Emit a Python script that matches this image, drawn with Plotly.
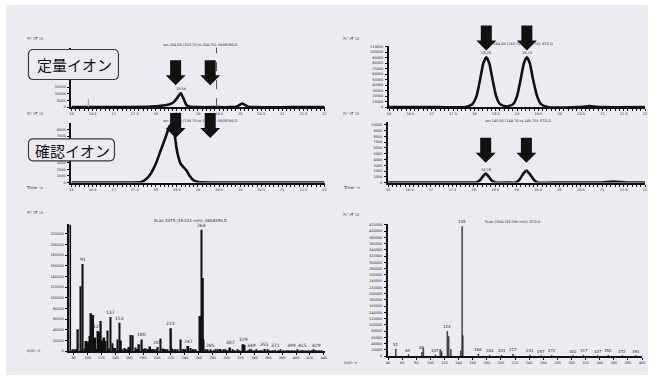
import plotly.graph_objects as go

W, H = 655, 381
BG = "#EDEBF2"
INK = "#111111"
TXT = "#2a2a2a"

# ---------------- data ----------------
# chromatogram, quantitation ion (left sample)
q1_time = [16.00, 16.71, 17.41, 17.88, 18.12, 18.31, 18.40, 18.49, 18.59, 18.66, 18.73,
           18.82, 19.06, 19.41, 19.76, 19.91, 20.05, 20.19, 20.35, 21.18, 22.00]
q1_abund = [0, 0, 140, 480, 1030, 2050, 3080, 6170, 10300, 6170, 1370,
            340, 0, 0, 0, 340, 2740, 340, 0, 0, 0]
q1_marker_time = [16.40, 16.40]
q1_marker_abund = [0, 6200]
q1_dash_time = 19.44
q1_ticks = [0, 5000, 10000, 15000]

# chromatogram, confirmation ion (left sample)
c1_time = [16.00, 17.41, 17.65, 17.76, 17.88, 18.00, 18.12, 18.24, 18.31, 18.35, 18.40,
           18.45, 18.49, 18.54, 18.59, 18.66, 18.73, 18.80, 18.89, 19.01, 19.29, 22.00]
c1_abund = [0, 0, 75, 450, 1340, 2830, 4920, 7000, 8340, 8720, 8570,
            7150, 5220, 3730, 2830, 2310, 1790, 1040, 370, 75, 0, 0]
c1_ticks = [0, 1000, 2000, 3000, 7000, 8000]

# chromatogram, quantitation ion (right standard)
q2_time = [16.00, 17.16, 17.77, 17.95, 18.05, 18.14, 18.21, 18.28, 18.35, 18.42, 18.51,
           18.60, 18.72, 18.79, 18.91, 19.00, 19.09, 19.16, 19.23, 19.30, 19.37, 19.47,
           19.56, 19.74, 20.42, 20.70, 20.98, 22.00]
q2_abund = [0, 0, 0, 5450, 20000, 52700, 80000, 90900, 80000, 52700, 20000,
            5450, 1800, 1800, 5450, 20000, 52700, 80000, 90900, 80000, 52700, 20000,
            5450, 0, 0, 1800, 0, 0]

# chromatogram, confirmation ion (right standard)
c2_time = [16.00, 17.86, 18.05, 18.14, 18.21, 18.28, 18.35, 18.42, 18.51, 18.79, 18.98,
           19.07, 19.16, 19.23, 19.30, 19.40, 19.49, 19.95, 20.98, 21.26, 21.56, 22.00]
c2_abund = [0, 0, 0, 345, 1030, 1550, 1030, 345, 0, 0, 0,
            520, 1550, 2070, 1550, 520, 0, 0, 0, 170, 0, 0]

tl_arrow_times = [18.47, 19.29]
tr_arrow_times = [18.28, 19.23]

# mass spectrum, left sample
ms1_mz = [75, 86, 90, 93, 98, 101, 103, 105, 108, 111,
          115, 117, 119, 121, 124, 126, 129, 133, 136, 140,
          143, 146, 148, 153, 160, 162, 165, 169, 174, 178,
          182, 190, 194, 201, 205, 209, 220, 222, 234, 239,
          245, 248, 262, 264, 266, 267, 277, 291, 296, 305,
          324, 326, 336, 355, 370, 394, 410, 429]
ms1_int = [237000, 41000, 122000, 163500, 19000, 18000, 28500, 71000, 67700, 25500,
           37800, 36000, 56500, 20000, 25500, 19000, 39000, 64000, 15000, 6000,
           22000, 53500, 20000, 6000, 8000, 30400, 30000, 7000, 13000, 22000,
           5000, 9000, 4000, 8000, 24000, 5000, 43000, 5000, 22000, 4000,
           10000, 6000, 66000, 227500, 137000, 22000, 3000, 4000, 2000, 7000,
           13000, 12000, 2000, 4000, 1500, 1500, 1500, 1500]
ms1_noise_mz = [79, 82, 84, 96, 113, 123, 131, 138, 150, 155,
                157, 170, 172, 180, 184, 186, 188, 192, 196, 199,
                211, 213, 215, 225, 227, 230, 237, 241, 251, 253,
                256, 270, 273, 281, 284, 287, 293, 299, 302, 309,
                312, 316, 319, 330, 333, 340, 343, 347, 351, 359,
                362, 366, 375, 378, 382, 386, 390, 398, 402, 406,
                414, 418, 422, 425, 433, 437]
ms1_noise_int = [3000, 2500, 4000, 5000, 4000, 6000, 5000, 5000, 3000, 2500,
                 3500, 3000, 2500, 4000, 5000, 3500, 3000, 2500, 2000, 3000,
                 3500, 2500, 2000, 3000, 2500, 2000, 3000, 2500, 2000, 3000,
                 2000, 2500, 2000, 1500, 2500, 2000, 1500, 2000, 1500, 2000,
                 1500, 2000, 1500, 1500, 2000, 1500, 2000, 1500, 1500, 2000,
                 1500, 1500, 1500, 2000, 1500, 1500, 1500, 1500, 2000, 1500,
                 1500, 1500, 1500, 2000, 1500, 1500]
ms1_label_text = ["91", "123", "137", "153", "180", "209", "223", "247", "264",
                  "285", "307", "329", "349", "355", "371", "399", "415", "429"]
ms1_label_mz = [93, 115, 133, 146, 178, 201, 220, 245, 264,
                277, 305, 324, 336, 355, 370, 394, 410, 429]

# mass spectrum, right standard
ms2_mz = [51, 69, 88, 90, 107, 114, 116, 124, 126, 129,
          143, 145, 146, 168, 184, 201, 217, 241, 257, 272,
          302, 317, 337, 352, 372, 391]
ms2_int = [23000, 5000, 13000, 25000, 4000, 22000, 15000, 80000, 63000, 22000,
           17000, 415000, 66000, 7000, 3000, 3000, 6000, 3000, 2000, 3000,
           2000, 3000, 2000, 3000, 2000, 2000]
ms2_label_mz = [51, 69, 88, 107, 124, 145, 168, 184, 201, 217,
                241, 257, 272, 302, 317, 337, 352, 372, 391]

label_quant = "定量イオン"
label_conf = "確認イオン"

# ---------------- helpers (layout only) ----------------
def dx(p):
    return p / W

def dy(p):
    return 1 - p / H

TICKFONT = dict(size=3.5, color=TXT, family="DejaVu Sans")

def xax(x0, x1, anchor, rng, dtick, tick0=None, minor=None):
    d = dict(domain=[dx(x0), dx(x1)], anchor=anchor, range=rng, dtick=dtick,
             showline=True, linecolor=INK, linewidth=2, ticks="outside", ticklen=2,
             tickwidth=1, tickcolor=INK, showgrid=False, zeroline=False,
             tickfont=TICKFONT, fixedrange=True, ticklabelstandoff=0)
    if tick0 is not None:
        d["tick0"] = tick0
    if minor is not None:
        d["minor"] = dict(dtick=minor, ticks="outside", ticklen=2, tickcolor=INK, showgrid=False)
    return d

def yax(ybot, ytop, anchor, rng, dtick=None, tickvals=None):
    d = dict(domain=[dy(ybot), dy(ytop)], anchor=anchor, range=rng,
             showline=True, linecolor=INK, linewidth=2, ticks="outside", ticklen=2,
             tickwidth=1, tickcolor=INK, showgrid=False, zeroline=False, tickformat="d",
             tickfont=TICKFONT, fixedrange=True, ticklabelstandoff=1)
    if tickvals is not None:
        d["tickvals"] = tickvals
    else:
        d["dtick"] = dtick
    return d

fig = go.Figure()

line_style = dict(color=INK, width=2.6, shape="spline", smoothing=0.5)
fig.add_trace(go.Scatter(x=q1_time, y=q1_abund, mode="lines", line=line_style, xaxis="x", yaxis="y"))
fig.add_trace(go.Scatter(x=q1_marker_time, y=q1_marker_abund, mode="lines",
                         line=dict(color="#9a9a9a", width=1), xaxis="x", yaxis="y"))
fig.add_trace(go.Scatter(x=c1_time, y=c1_abund, mode="lines", line=line_style, xaxis="x2", yaxis="y2"))
fig.add_trace(go.Scatter(x=q2_time, y=q2_abund, mode="lines", line=line_style, xaxis="x3", yaxis="y3"))
fig.add_trace(go.Scatter(x=c2_time, y=c2_abund, mode="lines", line=line_style, xaxis="x4", yaxis="y4"))

fig.add_trace(go.Bar(x=ms1_noise_mz, y=ms1_noise_int, width=2.0, marker=dict(color=INK, line=dict(width=0)),
                     xaxis="x5", yaxis="y5"))
fig.add_trace(go.Bar(x=ms1_mz, y=ms1_int, width=2.6, marker=dict(color=INK, line=dict(width=0)),
                     xaxis="x5", yaxis="y5"))
fig.add_trace(go.Bar(x=ms2_mz, y=ms2_int, width=1.3, marker=dict(color="#2b2b2b", line=dict(width=0.4, color="#2b2b2b")),
                     xaxis="x6", yaxis="y6"))

annotations = []
shapes = []

# background panel
shapes.append(dict(type="rect", xref="paper", yref="paper", x0=dx(4), x1=dx(651), y0=dy(377), y1=dy(4),
                   fillcolor=BG, line=dict(width=0), layer="below"))

# dashed marker line in quant chromatogram
shapes.append(dict(type="line", xref="x", yref="y domain", x0=q1_dash_time, x1=q1_dash_time, y0=0, y1=1,
                   line=dict(color="#555555", width=1, dash="dash"), layer="above"))

ARROW = "M 0,0 L -10,10 L -5.5,10 L -5.5,25 L 5.5,25 L 5.5,10 L 10,10 Z"

def arrow(xref, t, tip_py):
    return dict(type="path", xref=xref, yref="paper", xsizemode="pixel", ysizemode="pixel",
                xanchor=t, yanchor=dy(tip_py), path=ARROW, fillcolor=INK,
                line=dict(width=0), layer="above")

for t in tl_arrow_times:
    shapes.append(arrow("x", t, 85))
    shapes.append(arrow("x2", t, 138))
for t in tr_arrow_times:
    shapes.append(arrow("x3", t, 50))
    shapes.append(arrow("x4", t, 163))

def rounded_box(cx, cy, w, h, r):
    a, b = w / 2, h / 2
    p = (f"M {-a + r},{-b} L {a - r},{-b} Q {a},{-b} {a},{-b + r} L {a},{b - r} Q {a},{b} {a - r},{b} "
         f"L {-a + r},{b} Q {-a},{b} {-a},{b - r} L {-a},{-b + r} Q {-a},{-b} {-a + r},{-b} Z")
    return dict(type="path", xref="paper", yref="paper", xsizemode="pixel", ysizemode="pixel",
                xanchor=dx(cx), yanchor=dy(cy), path=p, fillcolor=BG,
                line=dict(color="#3a3a3a", width=1.2), layer="above")

shapes.append(rounded_box(72, 64, 90, 30, 5))
shapes.append(rounded_box(70, 150, 86, 22, 5))

JP = "Noto Sans CJK JP"
annotations.append(dict(text=label_quant, x=dx(73), y=dy(64.5), xref="paper", yref="paper", showarrow=False,
                        font=dict(family=JP, size=15, color="#111111"), xanchor="center", yanchor="middle"))
annotations.append(dict(text=label_conf, x=dx(71), y=dy(150.5), xref="paper", yref="paper", showarrow=False,
                        font=dict(family=JP, size=15, color="#111111"), xanchor="center", yanchor="middle"))

def tiny(text, cx, cy, size=4, anchor="center"):
    annotations.append(dict(text=text, x=dx(cx), y=dy(cy), xref="paper", yref="paper", showarrow=False,
                            font=dict(family="DejaVu Sans", size=size, color=TXT),
                            xanchor=anchor, yanchor="middle"))

ab = "ｱﾊﾞﾝﾀﾞﾝｽ"
for (cx, cy) in [(33, 38), (33, 113), (33, 213), (352, 38), (352, 113), (352, 215)]:
    tiny(ab, cx, cy)
tiny("Time-->", 33, 188)
tiny("Time-->", 352, 188)
tiny("m/z-->", 32, 352)
tiny("m/z-->", 352, 364)
tiny("Ion 264.00 (263.70 to 264.70): 0608290.D", 200, 44, 3.5)
tiny("Ion 137.00 (136.70 to 137.70): 0608290.D", 200, 121, 3.5)
tiny("Ion 264.00 (263.70 to 264.70): STD.D", 522, 43, 3.5)
tiny("Ion 145.00 (144.70 to 145.70): STD.D", 520, 121, 3.5)
tiny("Scan 2079 (19.021 min): 0608290.D", 190, 221, 4)
tiny("Scan 2064 (18.290 min): STD.D", 515, 223, 3.5)

# peak retention-time labels
for (xr, yr, t, v, txt) in [("x", "y", 18.59, 10300, "18.59"),
                            ("x3", "y3", 18.28, 90900, "18.28"),
                            ("x3", "y3", 19.23, 90900, "19.23"),
                            ("x4", "y4", 18.28, 1550, "18.28")]:
    annotations.append(dict(text=txt, x=t, y=v, xref=xr, yref=yr, showarrow=False, yshift=4,
                            font=dict(family="DejaVu Sans", size=3.5, color=TXT)))

# mass spectrum peak labels
lookup1 = dict(zip(ms1_mz, ms1_int))
for txt, m in zip(ms1_label_text, ms1_label_mz):
    annotations.append(dict(text=txt, x=m, y=lookup1[m], xref="x5", yref="y5", showarrow=False,
                            yanchor="bottom", yshift=0, font=dict(family="DejaVu Sans", size=4.5, color=TXT)))
lookup2 = dict(zip(ms2_mz, ms2_int))
for m in ms2_label_mz:
    annotations.append(dict(text=str(m), x=m, y=lookup2[m], xref="x6", yref="y6", showarrow=False,
                            yanchor="bottom", yshift=0, font=dict(family="DejaVu Sans", size=4, color=TXT)))

fig.update_layout(
    width=W, height=H, margin=dict(l=0, r=0, t=0, b=0),
    paper_bgcolor="white", plot_bgcolor="rgba(0,0,0,0)",
    showlegend=False, barmode="overlay",
    xaxis=xax(70, 325, "y", [16, 22], 0.5, minor=0.1),
    yaxis=yax(107, 47, "x", [0, 44400], tickvals=q1_ticks),
    xaxis2=xax(70, 325, "y2", [16, 22], 0.5, minor=0.1),
    yaxis2=yax(183, 123, "x2", [0, 9000], tickvals=c1_ticks),
    xaxis3=xax(390, 648, "y3", [16, 22], 0.5, minor=0.1),
    yaxis3=yax(107, 45, "x3", [0, 112000], 10000),
    xaxis4=xax(389, 648, "y4", [16, 22], 0.5, minor=0.1),
    yaxis4=yax(183, 122, "x4", [0, 10500], 1000),
    xaxis5=xax(68, 325, "y5", [74, 441], 20, tick0=80),
    yaxis5=yax(353, 225, "x5", [0, 238000], 20000),
    xaxis6=xax(389, 645, "y6", [40, 400], 20, tick0=40),
    yaxis6=yax(358, 225, "x6", [0, 422000], 20000),
    shapes=shapes, annotations=annotations,
)

fig.write_html("out.html", config={"displayModeBar": False},
               post_script="document.body.style.margin='0';document.body.style.padding='0';")
